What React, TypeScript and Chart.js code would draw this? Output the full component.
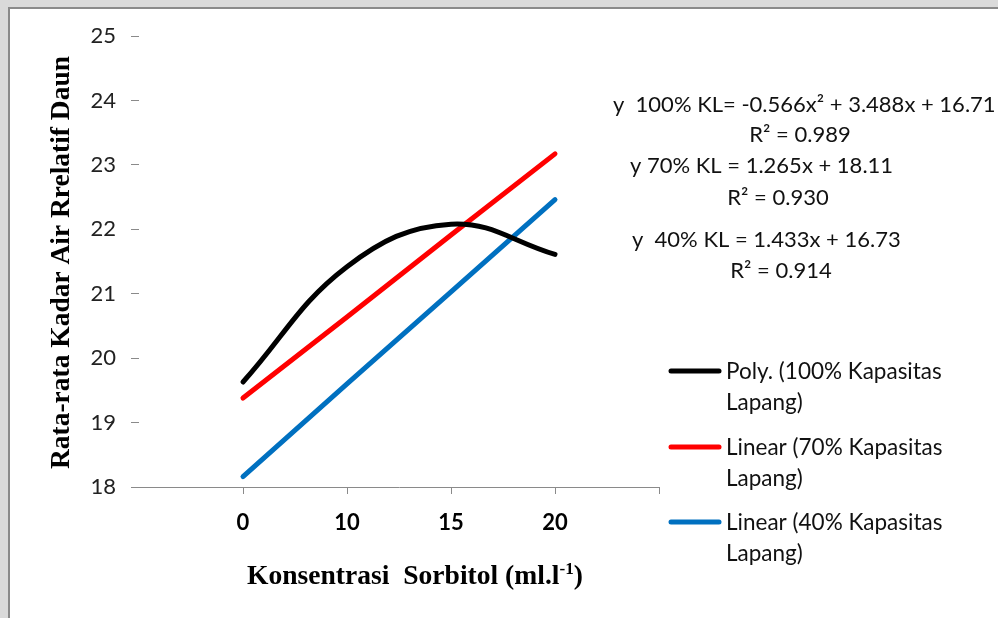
import React, { useEffect, useRef } from 'react';
import { Chart, registerables } from 'chart.js';

Chart.register(...registerables);

// ---- data ----
const categories = ['0', '10', '15', '20'];
const xPositions = [1, 2, 3, 4];
const poly100 = [19.63, 21.42, 22.08, 21.61];
const linear70 = [19.38, 20.64, 21.91, 23.17];
const linear40 = [18.16, 19.6, 21.03, 22.46];
const seriesColors = ['#000000', '#ff0000', '#0070c0'];
const legendTexts = [
  ['Poly. (100% Kapasitas', 'Lapang)'],
  ['Linear (70% Kapasitas', 'Lapang)'],
  ['Linear (40% Kapasitas', 'Lapang)'],
];
const equationTexts = [
  'y  100% KL= -0.566x\u00b2 + 3.488x + 16.71',
  'R\u00b2 = 0.989',
  'y 70% KL = 1.265x + 18.11',
  'R\u00b2 = 0.930',
  'y  40% KL = 1.433x + 16.73',
  'R\u00b2 = 0.914',
];
const yTitle = 'Rata-rata Kadar Air Rrelatif Daun';
const xTitleMain = 'Konsentrasi  Sorbitol (ml.l';
const xTitleSup = '-1';
const xTitleEnd = ')';

const toPoints = (vals: number[]) => vals.map((v, i) => ({ x: xPositions[i], y: v }));

const decorPlugin = {
  id: 'decor',
  beforeDraw(chart: any) {
    const { ctx, width, height } = chart;
    ctx.save();
    ctx.fillStyle = '#ffffff';
    ctx.fillRect(0, 0, width, height);
    ctx.fillStyle = '#dadada';
    ctx.fillRect(0, 0, width, 7);
    ctx.fillRect(0, 0, 8, height);
    ctx.fillStyle = '#8a8a8a';
    ctx.fillRect(8, 7, width - 8, 2);
    ctx.fillRect(8, 7, 2, height - 7);
    ctx.restore();
  },
  afterDraw(chart: any) {
    const { ctx } = chart;
    const area = chart.chartArea;
    ctx.save();
    ctx.fillStyle = '#000';
    ctx.textBaseline = 'middle';

    // y title
    ctx.save();
    ctx.font = 'bold 24px "Liberation Serif"';
    const yw = ctx.measureText(yTitle).width;
    ctx.translate(62, (area.top + area.bottom) / 2 + 1);
    ctx.rotate(-Math.PI / 2);
    ctx.scale(413 / yw, 1.1);
    ctx.textAlign = 'center';
    ctx.fillText(yTitle, 0, 0);
    ctx.restore();

    // x title
    ctx.save();
    const mainFont = 'bold 24px "Liberation Serif"';
    const supFont = 'bold 15px "Liberation Serif"';
    ctx.font = mainFont;
    const w1 = ctx.measureText(xTitleMain).width;
    const w3 = ctx.measureText(xTitleEnd).width;
    ctx.font = supFont;
    const w2 = ctx.measureText(xTitleSup).width;
    const total = w1 + w2 + w3;
    const sx = 336 / total;
    ctx.translate(247, 577);
    ctx.scale(sx, 1.1);
    ctx.textAlign = 'left';
    ctx.font = mainFont;
    ctx.fillText(xTitleMain, 0, 0);
    ctx.font = supFont;
    ctx.fillText(xTitleSup, w1, -7);
    ctx.font = mainFont;
    ctx.fillText(xTitleEnd, w1 + w2, 0);
    ctx.restore();

    // equations
    ctx.font = '22px Lato';
    ctx.fillStyle = '#111';
    const eqPos = [
      { x: 613, y: 105, align: 'left' },
      { x: 800, y: 135, align: 'center' },
      { x: 630, y: 166, align: 'left' },
      { x: 778, y: 198, align: 'center' },
      { x: 632, y: 240, align: 'left' },
      { x: 781, y: 271, align: 'center' },
    ];
    equationTexts.forEach((t, i) => {
      ctx.textAlign = eqPos[i].align;
      ctx.fillText(t, eqPos[i].x, eqPos[i].y);
    });

    // legend
    const rows = [371, 447, 522];
    chart.data.datasets.forEach((ds: any, i: number) => {
      const y = rows[i];
      ctx.strokeStyle = ds.borderColor;
      ctx.lineWidth = 5;
      ctx.lineCap = 'round';
      ctx.beginPath();
      ctx.moveTo(671, y);
      ctx.lineTo(719, y);
      ctx.stroke();
      ctx.fillStyle = '#111';
      ctx.font = '22.5px Lato';
      ctx.textAlign = 'left';
      legendTexts[i].forEach((line, j) => {
        ctx.fillText(line, 726, y + 1 + j * 31);
      });
    });
    ctx.restore();
  },
};

export default function App() {
  const ref = useRef<HTMLCanvasElement | null>(null);
  useEffect(() => {
    document.body.style.margin = '0';
    if (!ref.current) return;
    const chart = new Chart(ref.current, {
      type: 'line',
      data: {
        datasets: [
          {
            label: legendTexts[0].join(' '),
            data: toPoints(poly100),
            borderColor: seriesColors[0],
            borderWidth: 5,
            tension: 0.4,
            pointRadius: 0,
            borderCapStyle: 'round',
          },
          {
            label: legendTexts[1].join(' '),
            data: toPoints(linear70),
            borderColor: seriesColors[1],
            borderWidth: 5,
            tension: 0,
            pointRadius: 0,
            borderCapStyle: 'round',
          },
          {
            label: legendTexts[2].join(' '),
            data: toPoints(linear40),
            borderColor: seriesColors[2],
            borderWidth: 5,
            tension: 0,
            pointRadius: 0,
            borderCapStyle: 'round',
          },
        ],
      },
      options: {
        animation: false,
        responsive: false,
        maintainAspectRatio: false,
        layout: { padding: { left: 0, top: 36, right: 339, bottom: 0 } },
        plugins: { legend: { display: false }, tooltip: { enabled: false } },
        scales: {
          x: {
            type: 'linear',
            min: 0,
            max: 5,
            afterBuildTicks: (s: any) => {
              s.ticks = [0, 1, 2, 3, 4, 5].map((v) => ({ value: v }));
            },
            ticks: {
              autoSkip: false,
              maxRotation: 0,
              padding: 16,
              color: '#000',
              font: { family: 'Lato', size: 22, weight: 'bold' },
              callback: (v: any) => {
                const i = xPositions.indexOf(Number(v));
                return i >= 0 ? categories[i] : '';
              },
            },
            grid: {
              drawOnChartArea: false,
              tickLength: 7,
              color: (c: any) => (c.index === 0 ? 'rgba(0,0,0,0)' : '#8a8a8a'),
            },
            border: { color: '#8a8a8a', width: 1 },
            afterFit: (s: any) => {
              s.height = 131;
            },
          },
          y: {
            min: 18,
            max: 25,
            ticks: {
              stepSize: 1,
              padding: 15,
              color: '#222',
              font: { family: 'Lato', size: 22 },
            },
            grid: { drawOnChartArea: false, tickLength: 8, color: '#8a8a8a' },
            border: { display: false },
            afterFit: (s: any) => {
              s.width = 139;
            },
          },
        },
      },
      plugins: [decorPlugin],
    } as any);
    return () => chart.destroy();
  }, []);
  return (
    <div style={{ width: 998, height: 618 }}>
      <canvas ref={ref} width={998} height={618} style={{ display: 'block', width: 998, height: 618 }} />
    </div>
  );
}
